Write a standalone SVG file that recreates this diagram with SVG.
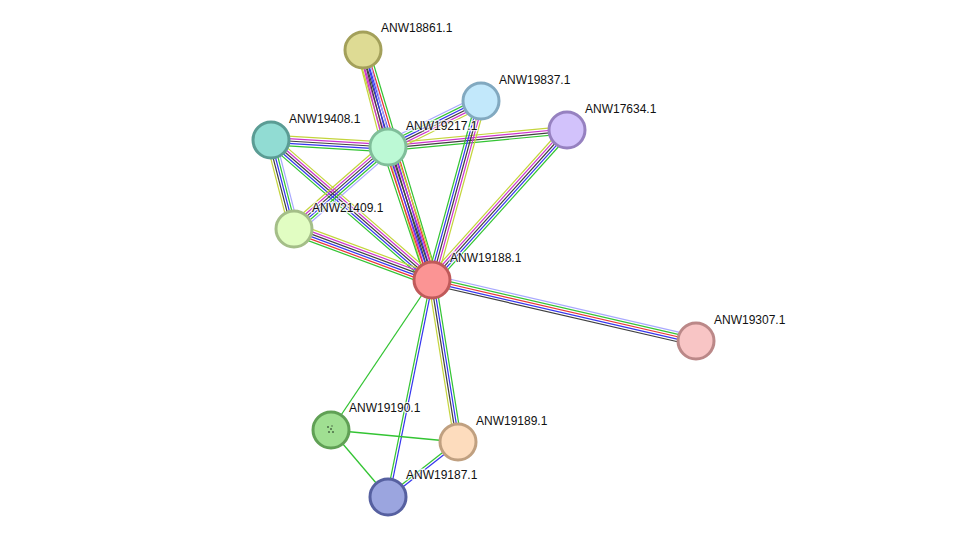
<svg xmlns="http://www.w3.org/2000/svg" width="976" height="542" viewBox="0 0 976 542">
<style>
.e line{stroke-width:1.1;fill:none}
.e > line{stroke-width:1.3}
.g{stroke:#33c433}.r{stroke:#e83535}.b{stroke:#3535ee}.k{stroke:#404040}.m{stroke:#cc33cc}.y{stroke:#c4d43c}.l{stroke:#a8a8ff}
.n circle{stroke-width:3}
.n text{font-family:"Liberation Sans",Arial,sans-serif;font-size:12px;fill:#111;stroke:#fff;stroke-width:2.5;stroke-opacity:0.75;paint-order:stroke}
</style>
<rect width="976" height="542" fill="#fff"/>
<g id="connectors" class="e">
<g transform="translate(363,50) rotate(73.30) scale(1,1.1)"><line x1="0" y1="-5.5" x2="240" y2="-5.5" class="g"/><line x1="0" y1="-3.3" x2="240" y2="-3.3" class="r"/><line x1="0" y1="-1.1" x2="240" y2="-1.1" class="b"/><line x1="0" y1="1.1" x2="240" y2="1.1" class="k"/><line x1="0" y1="3.3" x2="240" y2="3.3" class="m"/><line x1="0" y1="5.5" x2="240" y2="5.5" class="y"/></g>
<g transform="translate(363,50) rotate(75.5) scale(1,1.1)"><line x1="0" y1="-3.3" x2="100" y2="-3.3" class="l"/><line x1="0" y1="-1.1" x2="100" y2="-1.1" class="b"/><line x1="0" y1="1.1" x2="100" y2="1.1" class="k"/><line x1="0" y1="3.3" x2="100" y2="3.3" class="m"/><line x1="0" y1="5.5" x2="100" y2="5.5" class="y"/></g>
<g transform="translate(388,147) rotate(71.70) scale(1,1.1)"><line x1="0" y1="-5.5" x2="140" y2="-5.5" class="y"/><line x1="0" y1="-3.3" x2="140" y2="-3.3" class="m"/><line x1="0" y1="-1.1" x2="140" y2="-1.1" class="k"/><line x1="0" y1="1.1" x2="140" y2="1.1" class="b"/><line x1="0" y1="3.3" x2="140" y2="3.3" class="r"/><line x1="0" y1="5.5" x2="140" y2="5.5" class="g"/></g>
<g transform="translate(271,140) rotate(3.42) scale(1,1.1)"><line x1="0" y1="-4.4" x2="117" y2="-4.4" class="y"/><line x1="0" y1="-2.2" x2="117" y2="-2.2" class="m"/><line x1="0" y1="0" x2="117" y2="0" class="k"/><line x1="0" y1="2.2" x2="117" y2="2.2" class="b"/><line x1="0" y1="4.4" x2="117" y2="4.4" class="g"/></g>
<g transform="translate(388,147) rotate(-5.43) scale(1,1.1)"><line x1="0" y1="-3.3" x2="180" y2="-3.3" class="y"/><line x1="0" y1="-1.1" x2="180" y2="-1.1" class="m"/><line x1="0" y1="1.1" x2="180" y2="1.1" class="k"/><line x1="0" y1="3.3" x2="180" y2="3.3" class="g"/></g>
<g transform="translate(388,147) rotate(-26.32) scale(1,1.1)"><line x1="0" y1="-5.5" x2="104" y2="-5.5" class="l"/><line x1="0" y1="-3.3" x2="104" y2="-3.3" class="g"/><line x1="0" y1="-1.1" x2="104" y2="-1.1" class="b"/><line x1="0" y1="1.1" x2="104" y2="1.1" class="k"/><line x1="0" y1="3.3" x2="104" y2="3.3" class="m"/><line x1="0" y1="5.5" x2="104" y2="5.5" class="y"/></g>
<g transform="translate(481,101) rotate(105.31) scale(1,1.1)"><line x1="0" y1="4.4" x2="186" y2="4.4" class="g"/><line x1="0" y1="2.2" x2="186" y2="2.2" class="b"/><line x1="0" y1="0" x2="186" y2="0" class="k"/><line x1="0" y1="-2.2" x2="186" y2="-2.2" class="m"/><line x1="0" y1="-4.4" x2="186" y2="-4.4" class="y"/></g>
<g transform="translate(567,130) rotate(131.99) scale(1,1.1)"><line x1="0" y1="4.4" x2="202" y2="4.4" class="y"/><line x1="0" y1="2.2" x2="202" y2="2.2" class="m"/><line x1="0" y1="0" x2="202" y2="0" class="k"/><line x1="0" y1="-2.2" x2="202" y2="-2.2" class="b"/><line x1="0" y1="-4.4" x2="202" y2="-4.4" class="g"/></g>
<g transform="translate(271,140) rotate(75.51) scale(1,1.1)"><line x1="0" y1="4.4" x2="92" y2="4.4" class="y"/><line x1="0" y1="2.2" x2="92" y2="2.2" class="k"/><line x1="0" y1="0" x2="92" y2="0" class="b"/><line x1="0" y1="-2.2" x2="92" y2="-2.2" class="g"/><line x1="0" y1="-4.4" x2="92" y2="-4.4" class="l"/></g>
<g transform="translate(271,140) rotate(41.01) scale(1,1.1)"><line x1="0" y1="-4.4" x2="213" y2="-4.4" class="y"/><line x1="0" y1="-2.2" x2="213" y2="-2.2" class="m"/><line x1="0" y1="0" x2="213" y2="0" class="k"/><line x1="0" y1="2.2" x2="213" y2="2.2" class="b"/><line x1="0" y1="4.4" x2="213" y2="4.4" class="g"/></g>
<g transform="translate(294,229) rotate(-41.1) scale(1,1.1)"><line x1="0" y1="-5.5" x2="125" y2="-5.5" class="y"/><line x1="0" y1="-3.3" x2="125" y2="-3.3" class="m"/><line x1="0" y1="-1.1" x2="125" y2="-1.1" class="k"/><line x1="0" y1="1.1" x2="125" y2="1.1" class="b"/><line x1="0" y1="3.3" x2="125" y2="3.3" class="g"/><line x1="0" y1="5.5" x2="125" y2="5.5" class="l"/></g>
<g transform="translate(294,229) rotate(20.28) scale(1,1.1)"><line x1="0" y1="-5.5" x2="147" y2="-5.5" class="y"/><line x1="0" y1="-3.3" x2="147" y2="-3.3" class="m"/><line x1="0" y1="-1.1" x2="147" y2="-1.1" class="k"/><line x1="0" y1="1.1" x2="147" y2="1.1" class="b"/><line x1="0" y1="3.3" x2="147" y2="3.3" class="r"/><line x1="0" y1="5.5" x2="147" y2="5.5" class="g"/></g>
<g transform="translate(432,280) rotate(13.01) scale(1,1.1)"><line x1="0" y1="-4.4" x2="271" y2="-4.4" class="l"/><line x1="0" y1="-2.2" x2="271" y2="-2.2" class="g"/><line x1="0" y1="0" x2="271" y2="0" class="r"/><line x1="0" y1="2.2" x2="271" y2="2.2" class="b"/><line x1="0" y1="4.4" x2="271" y2="4.4" class="k"/></g>
<line x1="432" y1="280" x2="331" y2="430" class="g"/>
<g transform="translate(432,280) rotate(101.46) scale(1,1.1)"><line x1="0" y1="1.1" x2="221" y2="1.1" class="g"/><line x1="0" y1="-1.1" x2="221" y2="-1.1" class="b"/></g>
<g transform="translate(432,280) rotate(80.88) scale(1,1.1)"><line x1="0" y1="3.3" x2="164" y2="3.3" class="y"/><line x1="0" y1="1.1" x2="164" y2="1.1" class="k"/><line x1="0" y1="-1.1" x2="164" y2="-1.1" class="b"/><line x1="0" y1="-3.3" x2="164" y2="-3.3" class="g"/></g>
<line x1="331" y1="430" x2="458" y2="442" class="g"/>
<line x1="331" y1="430" x2="388" y2="497" class="g"/>
<g transform="translate(458,442) rotate(141.84) scale(1,1.1)"><line x1="0" y1="1.1" x2="89" y2="1.1" class="g"/><line x1="0" y1="-1.1" x2="89" y2="-1.1" class="b"/></g>
</g>
<g id="ANW18861.1" class="n"><circle cx="363" cy="50" r="18" fill="#dedb94" stroke="#a3a05a"/><text x="381" y="32">ANW18861.1</text></g>
<g id="ANW19837.1" class="n"><circle cx="481" cy="101" r="18" fill="#c2e8fb" stroke="#82a9c0"/><text x="499" y="84">ANW19837.1</text></g>
<g id="ANW17634.1" class="n"><circle cx="567" cy="130" r="18" fill="#d2c2fb" stroke="#9681c0"/><text x="585" y="113">ANW17634.1</text></g>
<g id="ANW19408.1" class="n"><circle cx="271" cy="140" r="18" fill="#91dcd3" stroke="#5b9c94"/><text x="289" y="123">ANW19408.1</text></g>
<g id="ANW19217.1" class="n"><circle cx="388" cy="147" r="18" fill="#bcf9d5" stroke="#80be9a"/><text x="406" y="130">ANW19217.1</text></g>
<g id="ANW21409.1" class="n"><circle cx="294" cy="229" r="18" fill="#e1fdc2" stroke="#a4be88"/><text x="312" y="212">ANW21409.1</text></g>
<g id="ANW19188.1" class="n"><circle cx="432" cy="280" r="18" fill="#fb9494" stroke="#c05a5a"/><text x="450" y="262">ANW19188.1</text></g>
<g id="ANW19307.1" class="n"><circle cx="696" cy="341" r="18" fill="#f8c5c5" stroke="#bb8888"/><text x="714" y="324">ANW19307.1</text></g>
<g id="ANW19190.1" class="n"><circle cx="331" cy="430" r="18" fill="#a0df92" stroke="#60a055"/><g fill="#4a6a44"><circle cx="328" cy="427" r="1" stroke="none"/><circle cx="331" cy="429" r="1" stroke="none"/><circle cx="329" cy="432" r="1" stroke="none"/><circle cx="333" cy="432" r="1" stroke="none"/><circle cx="332" cy="426" r="0.8" stroke="none"/></g><text x="349" y="412">ANW19190.1</text></g>
<g id="ANW19189.1" class="n"><circle cx="458" cy="442" r="18" fill="#fddcbd" stroke="#c0a080"/><text x="476" y="425">ANW19189.1</text></g>
<g id="ANW19187.1" class="n"><circle cx="388" cy="497" r="18" fill="#9ba5df" stroke="#5660a0"/><text x="406" y="479">ANW19187.1</text></g>
</svg>
